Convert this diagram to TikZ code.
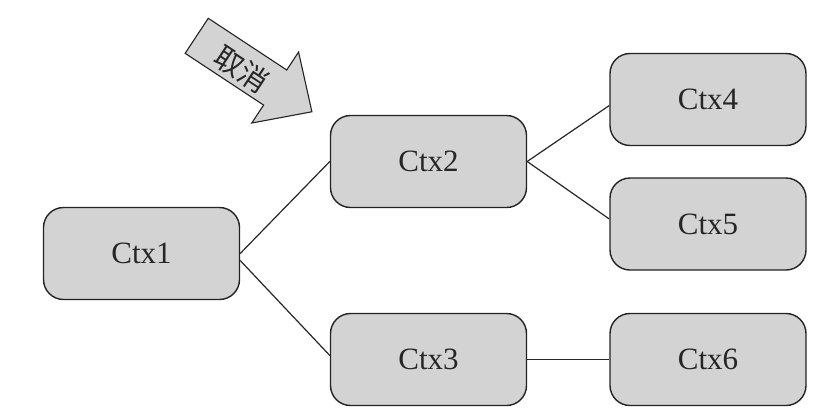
\documentclass[tikz,border=0pt]{standalone}
\usepackage{fontspec}
\setmainfont{Liberation Serif}
\newfontfamily\cjk{Noto Sans CJK SC}
\definecolor{boxgray}{RGB}{211,211,211}
\definecolor{edgegray}{RGB}{35,35,35}
\begin{document}
\begin{tikzpicture}[x=1pt,y=-1pt,
  ctx/.style={draw=edgegray, line width=1.4pt, fill=boxgray, rounded corners=20pt,
    minimum width=196pt, minimum height=92pt, inner sep=0pt,
    font=\fontsize{31}{36}\selectfont, text=black!85},
  link/.style={draw=black!85, line width=1.2pt}]
\useasboundingbox (0,0) rectangle (829,418);

% context tree
\node[ctx] (c1) at (141.5,253.5) {Ctx1};
\node[ctx] (c2) at (428.5,161.5) {Ctx2};
\node[ctx] (c3) at (428.5,359.5) {Ctx3};
\node[ctx] (c4) at (708,99.5) {Ctx4};
\node[ctx] (c5) at (708,224) {Ctx5};
\node[ctx] (c6) at (708,359.5) {Ctx6};

\draw[link] (c1.east) -- (c2.west);
\draw[link] ([yshift=-7pt]c1.east) -- ([yshift=4pt]c3.west);
\draw[link] (c2.east) -- ([yshift=-6pt]c4.west);
\draw[link] (c2.east) -- ([yshift=5pt]c5.west);
\draw[link] (c3.east) -- (c6.west);

% cancel arrow
\begin{scope}[shift={(196.7,35.8)}, rotate=-33.4]
  \draw[draw=edgegray, line width=1.1pt, fill=boxgray, line join=miter]
    (0,-21) -- (94,-21) -- (94,-42.5) -- (138,0) -- (94,42.5) -- (94,21) -- (0,21) -- cycle;
  \node[inner sep=0pt, rotate=-33.4, font=\cjk\fontsize{29}{32}\selectfont, text=black!85]
    (cancel) at (56,3) {取消};
\end{scope}
\end{tikzpicture}
\end{document}
